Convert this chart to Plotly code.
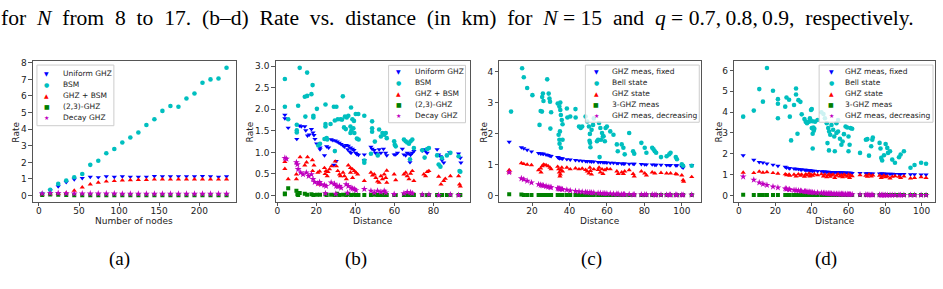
import plotly.graph_objects as go

W, H = 943, 289
def px(x): return x / W
def py(y): return 1 - y / H

# ---------------- data ----------------
# (a) rate vs number of nodes
a_nodes = [4, 14, 24, 34, 44, 54, 64, 74, 84, 94, 104, 114, 124, 134, 144, 154, 164, 174, 184, 194, 204, 214, 224, 234]
a_uniform = [0.1, 0.3, 0.55, 0.8, 0.97, 1.05, 1.12, 1.1, 1.15, 1.12, 1.15, 1.13, 1.12, 1.13, 1.17, 1.15, 1.15, 1.15, 1.15, 1.15, 1.17, 1.15, 1.12, 1.15]
a_bsm = [0.1, 0.35, 0.7, 0.9, 1.1, 1.3, 1.85, 2.1, 2.55, 2.8, 3.2, 3.5, 3.8, 4.25, 4.6, 5.1, 5.4, 5.35, 5.85, 6.15, 6.8, 7.0, 7.05, 7.7]
a_ghz_bsm = [0.05, 0.08, 0.1, 0.15, 0.3, 0.5, 0.68, 0.78, 0.85, 0.88, 0.92, 0.93, 0.95, 0.95, 0.97, 0.98, 0.97, 0.98, 0.98, 0.98, 0.98, 0.98, 0.97, 0.98]
a_23ghz = [0.03, 0.06, 0.05, 0.03, 0.02, 0.02, 0.02, 0.02, 0.02, 0.02, 0.02, 0.02, 0.02, 0.02, 0.02, 0.02, 0.02, 0.02, 0.02, 0.02, 0.02, 0.02, 0.02, 0.02]
a_decay = [0.12, 0.15, 0.15, 0.13, 0.12, 0.12, 0.11, 0.11, 0.11, 0.11, 0.1, 0.1, 0.1, 0.1, 0.1, 0.1, 0.1, 0.1, 0.1, 0.1, 0.1, 0.1, 0.1, 0.1]

# (b) q = 0.7 : (distance, rate) pairs
b_uniform = [(3.9,1.87),(3.9,1.79),(5.6,1.57),(10.0,1.31),(11.4,1.62),(12.3,1.60),(14.1,1.60),(14.6,1.51),(15.5,1.39),(16.4,1.41),
             (17.5,1.54),(18.3,1.46),(18.8,1.40),(19.3,1.31),(20.2,1.20),(21.9,1.11),(21.9,1.07),(24.2,0.93),(25.3,1.14),(26.3,1.11),
             (27.6,1.30),(28.5,1.28),(29.7,1.27),(30.7,1.25),(31.7,1.22),(32.7,1.19),(33.7,1.16),(34.4,1.13),(29.0,0.71),(30.2,0.80),
             (35.4,1.17),(36.4,1.15),(37.5,1.11),(38.5,1.08),(39.3,1.05),(40.2,0.99),(40.8,0.96),(41.6,0.94),(36.1,1.07),(37.1,1.02),
             (37.8,0.99),(44.6,0.95),(44.6,0.82),(48.0,1.13),(48.6,1.08),(49.7,1.05),(50.3,0.99),(51.4,0.97),(52.2,1.07),(53.1,0.99),
             (54.4,1.08),(55.5,0.99),(56.1,0.93),(59.9,0.95),(60.7,0.95),(61.6,0.99),(64.1,1.08),(64.9,0.95),(65.8,0.93),(66.6,0.99),
             (67.5,0.97),(68.3,0.94),(69.2,0.99),(70.0,1.03),(68.0,0.77),(74.3,1.04),(75.1,1.07),(76.0,1.03),(76.8,0.99),(81.9,1.07),
             (82.7,0.95),(83.6,0.91),(84.4,0.82),(85.3,0.76),(88.3,1.00),(92.9,0.97),(93.8,0.87),(94.1,0.76)]
b_bsm = [(3.9,2.70),(3.9,2.06),(5.6,1.77),(11.5,2.96),(15.3,2.85),(18.1,2.56),(14.1,2.29),(15.3,2.31),(17.5,2.35),(10.7,2.08),
         (20.3,2.01),(14.4,1.83),(18.5,1.85),(18.5,1.81),(10.0,1.64),(10.0,1.51),(10.0,1.46),(24.7,2.11),(29.0,2.06),(30.3,2.06),
         (33.6,2.30),(24.7,1.66),(24.7,1.60),(27.3,1.66),(29.5,1.74),(31.0,1.77),(32.4,1.77),(33.2,1.76),(34.7,1.83),(35.6,1.81),
         (36.4,1.85),(37.8,2.04),(40.2,1.89),(41.5,1.89),(38.5,1.77),(39.3,1.73),(37.5,1.60),(39.0,1.56),(38.0,1.51),(37.5,1.45),
         (39.5,1.45),(40.8,1.32),(41.7,1.30),(34.2,1.58),(35.1,1.54),(25.3,1.33),(24.2,1.31),(25.6,1.30),(21.0,1.16),(21.9,1.20),
         (29.5,1.03),(44.6,1.85),(48.6,1.72),(48.6,1.56),(48.6,1.48),(50.0,1.25),(48.0,0.97),(44.6,0.81),(44.6,0.76),(52.2,1.53),
         (53.1,1.37),(53.9,1.45),(54.8,1.41),(55.6,1.45),(56.1,1.33),(51.5,0.93),(59.9,1.26),(60.2,1.18),(60.7,1.14),(64.9,1.30),
         (65.8,1.26),(66.6,1.23),(67.5,1.20),(68.3,1.26),(69.2,1.30),(70.0,1.10),(68.0,0.84),(74.3,1.05),(76.8,1.08),(77.7,1.10),
         (75.5,0.88),(81.9,0.93),(82.7,0.72),(83.6,0.67),(84.4,0.87),(86.9,0.93),(88.7,0.99),(92.9,0.91),(93.4,0.57),(93.8,0.55)]
b_ghz_bsm = [(3.9,0.78),(3.9,0.62),(5.6,0.38),(9.8,0.49),(9.8,0.38),(11.7,0.89),(14.1,0.70),(15.0,0.77),(15.5,0.89),(18.0,0.82),
             (18.8,0.70),(18.1,0.57),(20.8,0.53),(21.7,0.56),(21.4,0.26),(24.2,0.64),(25.0,0.57),(25.6,0.45),(26.8,0.61),(27.8,0.68),
             (29.7,0.79),(30.3,0.68),(31.0,0.57),(31.9,0.49),(32.4,0.45),(33.7,0.53),(34.4,0.45),(35.4,0.38),(36.4,0.70),(37.5,0.64),
             (38.5,0.61),(39.5,0.57),(40.3,0.53),(41.2,0.49),(37.5,0.53),(38.6,0.41),(44.6,0.34),(48.0,0.53),(48.8,0.47),(49.7,0.49),
             (50.5,0.41),(51.4,0.33),(52.2,0.30),(53.1,0.45),(53.9,0.38),(54.8,0.49),(55.6,0.41),(56.1,0.58),(56.1,0.30),(59.9,0.49),
             (60.7,0.36),(64.9,0.49),(65.8,0.53),(66.6,0.45),(67.5,0.38),(68.3,0.51),(69.2,0.57),(70.0,0.34),(75.1,0.49),(76.0,0.45),
             (76.8,0.55),(77.7,0.57),(82.7,0.44),(83.9,0.26),(85.3,0.34),(86.1,0.39),(88.7,0.45),(92.9,0.45),(93.4,0.26),(93.8,0.21),
             (24.5,0.50),(26.0,0.55)]
b_23ghz = [(3.9,0.05),(3.9,0.03),(5.6,0.17),(9.8,0.11),(10.3,0.03),(10.7,0.01),(11.5,0.06),(14.1,0.04),(15.3,0.02),(17.5,0.03),
           (18.5,0.01),(20.3,0.02),(21.9,0.02),(24.7,0.03),(25.3,0.01),(27.6,0.02),(29.5,0.01),(30.7,0.04),(31.7,0.01),(33.7,0.02),
           (35.4,0.01),(36.4,0.03),(37.8,0.01),(39.3,0.02),(40.2,0.01),(41.6,0.01),(44.6,0.01),(48.0,0.01),(49.7,0.02),(51.4,0.01),
           (53.1,0.01),(54.8,0.01),(56.1,0.01),(59.9,0.01),(60.7,0.01),(64.9,0.01),(66.6,0.01),(68.3,0.01),(70.0,0.01),(74.3,0.01),
           (76.8,0.01),(77.7,0.01),(81.9,0.01),(84.4,0.01),(86.9,0.01),(88.7,0.01),(92.9,0.01),(93.8,0.01)]
b_decay = [(3.9,0.87),(4.7,0.85),(9.8,0.77),(10.3,0.72),(10.7,0.61),(12.0,0.53),(13.2,0.49),(14.9,0.53),(16.1,0.45),(17.5,0.49),
           (18.3,0.38),(19.2,0.31),(20.8,0.28),(21.7,0.31),(22.5,0.26),(24.2,0.24),(25.0,0.22),(27.6,0.30),(29.3,0.27),(30.2,0.22),
           (31.0,0.21),(31.9,0.22),(32.7,0.18),(35.3,0.26),(36.4,0.22),(37.8,0.18),(38.6,0.16),(39.5,0.15),(40.3,0.12),(44.6,0.15),
           (48.0,0.11),(49.7,0.07),(51.4,0.11),(53.1,0.08),(54.8,0.11),(55.6,0.07),(59.9,0.03),(64.9,0.05),(66.6,0.08),(68.3,0.07),
           (69.2,0.05),(74.3,0.02),(77.7,0.02),(82.7,0.01),(88.7,0.02),(92.9,0.01),(24.7,0.05),(30.0,0.04),(36.0,0.06)]

# (c) q = 0.8
c_dist = [7.8, 14.3, 15.6, 17.4, 19.7, 23.5, 24.6, 25.4, 26.1, 27.5, 28.6, 29.6, 30.2, 33.7, 34.2, 34.6, 35.1, 35.9, 36.3, 38.6,
          40.4, 43.2, 45.1, 46.8, 48.6, 49.5, 50.9, 51.8, 53.0, 55.3, 56.5, 57.9, 58.9, 60.0, 61.8, 63.5, 65.3, 66.0, 67.9, 68.8,
          69.5, 71.9, 74.0, 74.6, 78.4, 80.2, 81.1, 84.2, 85.6, 86.3, 88.9, 91.9, 93.3, 94.0, 96.8, 97.4, 100.0, 100.7, 105.3]
c_fixed = [1.73, 1.55, 1.52, 1.47, 1.42, 1.37, 1.35, 1.35, 1.34, 1.32, 1.30, 1.28, 1.27, 1.24, 1.22, 1.20, 1.21, 1.20, 1.19, 1.17,
           1.16, 1.14, 1.13, 1.12, 1.11, 1.10, 1.10, 1.09, 1.09, 1.08, 1.08, 1.07, 1.07, 1.06, 1.05, 1.05, 1.04, 1.04, 1.03, 1.03,
           1.03, 1.02, 1.02, 1.02, 1.01, 1.00, 1.00, 1.00, 0.99, 0.99, 0.99, 0.98, 0.98, 0.98, 0.97, 0.97, 0.93, 0.90, 0.98]
c_3ghz = [0.04, 0.03, 0.02, 0.02, 0.02, 0.02, 0.02, 0.02, 0.02, 0.02, 0.02, 0.02, 0.02, 0.02, 0.02, 0.02, 0.02, 0.02, 0.02, 0.02,
          0.02, 0.02, 0.02, 0.02, 0.02, 0.02, 0.02, 0.02, 0.02, 0.02, 0.02, 0.02, 0.02, 0.02, 0.02, 0.02, 0.02, 0.02, 0.02, 0.02,
          0.02, 0.02, 0.02, 0.02, 0.02, 0.02, 0.02, 0.02, 0.02, 0.02, 0.02, 0.02, 0.02, 0.02, 0.02, 0.02, 0.02, 0.02, 0.02]
c_decr = [0.75, 0.55, 0.52, 0.47, 0.42, 0.36, 0.34, 0.33, 0.32, 0.30, 0.28, 0.27, 0.26, 0.23, 0.22, 0.22, 0.21, 0.21, 0.20, 0.18,
          0.16, 0.14, 0.13, 0.12, 0.11, 0.10, 0.10, 0.09, 0.09, 0.08, 0.08, 0.07, 0.07, 0.06, 0.06, 0.05, 0.05, 0.05, 0.04, 0.04,
          0.04, 0.04, 0.03, 0.03, 0.03, 0.03, 0.03, 0.03, 0.02, 0.02, 0.02, 0.02, 0.02, 0.02, 0.02, 0.02, 0.02, 0.02, 0.02]
c_bell = [(8.8,2.71),(14.7,4.11),(15.6,3.82),(17.4,3.47),(20.2,3.24),(24.0,2.28),(24.6,2.73),(25.3,2.71),(25.4,3.18),(25.8,3.29),
          (26.1,3.05),(28.1,3.75),(28.9,3.29),(29.3,3.13),(29.6,3.03),(30.2,2.69),(29.8,2.16),(33.7,2.97),(34.6,2.87),(35.1,2.76),
          (35.4,2.60),(35.9,2.44),(36.3,2.30),(34.9,2.07),(34.2,1.96),(34.6,1.80),(34.7,1.67),(35.4,1.54),(35.1,3.00),(36.3,1.80),
          (38.6,2.81),(38.9,2.52),(40.4,2.55),(43.2,2.79),(43.3,2.52),(45.1,2.23),(46.0,2.18),(46.8,2.23),(48.6,2.55),(49.5,2.39),
          (50.4,2.23),(50.9,1.99),(50.7,1.77),(51.0,1.70),(51.2,1.56),(51.8,2.12),(52.6,2.28),(53.0,2.49),(54.7,1.75),(55.3,1.80),
          (55.8,2.34),(56.5,2.18),(57.4,2.02),(57.9,1.91),(56.8,1.80),(56.1,1.24),(58.2,1.91),(58.9,1.75),(59.3,2.18),(60.0,2.23),
          (61.8,2.07),(63.5,1.96),(65.3,1.65),(65.8,1.43),(67.9,1.65),(68.8,1.54),(69.5,1.33),(71.9,2.02),(74.0,1.43),(74.6,1.35),
          (78.4,1.70),(80.2,1.54),(81.1,1.38),(84.2,1.54),(84.9,1.49),(85.6,1.43),(86.3,1.38),(88.9,1.24),(91.9,1.27),(93.3,1.33),
          (94.0,1.38),(96.8,1.24),(97.4,1.17),(100.0,1.01),(100.7,0.96),(105.3,0.96)]
c_ghz_state = [(7.8,0.82),(7.8,0.75),(14.3,1.05),(15.6,1.02),(17.4,1.00),(19.7,0.98),(23.5,0.82),(24.6,0.88),(25.4,0.95),(26.1,1.00),
               (27.5,0.98),(28.6,0.95),(29.6,0.90),(30.2,0.85),(24.8,0.75),(26.5,0.98),(33.7,0.93),(34.2,0.85),(34.6,0.75),(35.1,0.68),
               (35.4,0.82),(35.9,0.90),(36.3,0.78),(34.9,0.62),(38.6,0.90),(40.4,0.85),(43.2,0.88),(45.1,0.85),(46.8,0.87),(48.6,0.83),
               (49.5,0.78),(50.4,0.72),(50.9,0.90),(51.2,0.80),(51.8,0.68),(53.0,0.85),(55.3,0.83),(55.8,0.90),(56.5,0.75),(57.4,0.85),
               (57.9,0.70),(58.9,0.82),(60.0,0.86),(61.8,0.85),(65.3,0.78),(66.0,0.70),(67.9,0.75),(68.8,0.70),(69.5,0.78),(71.9,0.82),
               (74.0,0.70),(74.6,0.62),(78.4,0.78),(80.2,0.72),(81.1,0.65),(84.2,0.75),(85.6,0.72),(88.9,0.73),(91.9,0.72),(94.0,0.72),
               (96.8,0.70),(97.4,0.68),(100.0,0.65),(100.7,0.50),(101.0,0.45),(105.3,0.60)]

# (d) q = 0.9
d_dist = [2.4, 8.2, 11.2, 13.2, 15.4, 18.7, 21.4, 25.4, 26.1, 27.5, 27.9, 30.2, 31.3, 32.6, 33.7, 34.4, 35.9, 36.6, 37.3, 38.4,
          38.9, 39.5, 40.4, 41.3, 43.1, 45.2, 46.3, 47.1, 48.1, 48.9, 49.4, 50.0, 50.7, 51.6, 52.5, 53.4, 54.3, 55.3, 56.1, 56.8,
          57.5, 58.4, 59.3, 60.0, 60.6, 61.1, 62.0, 66.3, 69.5, 70.3, 71.2, 72.4, 73.3, 77.0, 77.9, 78.4, 79.4, 80.3, 81.2, 82.7,
          83.9, 85.4, 87.6, 88.5, 90.3, 93.9, 96.1, 99.7, 102.4]
d_fixed = [1.92, 1.70, 1.60, 1.57, 1.52, 1.47, 1.42, 1.37, 1.33, 1.31, 1.30, 1.28, 1.27, 1.26, 1.25, 1.24, 1.23, 1.22, 1.21, 1.20,
           1.20, 1.19, 1.18, 1.18, 1.16, 1.15, 1.14, 1.14, 1.13, 1.13, 1.12, 1.12, 1.12, 1.11, 1.11, 1.11, 1.10, 1.10, 1.10, 1.09,
           1.09, 1.09, 1.08, 1.08, 1.08, 1.08, 1.07, 1.07, 1.06, 1.06, 1.05, 1.05, 1.05, 1.04, 1.04, 1.04, 1.04, 1.03, 1.03, 1.03,
           1.03, 1.02, 1.02, 1.02, 1.02, 1.01, 1.01, 1.00, 1.00]
d_ghz_state = [1.10, 1.08, 1.15, 1.10, 1.12, 1.08, 1.05, 1.02, 0.98, 1.00, 0.95, 1.00, 0.92, 1.02, 0.95, 1.00, 0.90, 1.02, 0.97, 1.05,
               0.92, 1.00, 0.95, 1.02, 0.98, 1.02, 0.92, 1.00, 0.88, 0.98, 1.02, 0.90, 0.97, 1.00, 0.85, 0.95, 1.02, 0.92, 0.98, 0.88,
               1.00, 0.95, 0.90, 1.00, 0.85, 0.97, 0.93, 0.98, 0.95, 0.90, 1.00, 0.92, 0.97, 0.95, 0.85, 0.90, 0.95, 0.88, 0.92, 0.82,
               0.90, 0.93, 0.90, 0.85, 0.92, 0.82, 0.85, 0.88, 0.85]
d_3ghz = [0.03, 0.02, 0.02, 0.02, 0.02, 0.02, 0.02, 0.02, 0.02, 0.02, 0.02, 0.02, 0.02, 0.02, 0.02, 0.02, 0.02, 0.02, 0.02, 0.02,
          0.02, 0.02, 0.02, 0.02, 0.02, 0.02, 0.02, 0.02, 0.02, 0.02, 0.02, 0.02, 0.02, 0.02, 0.02, 0.02, 0.02, 0.02, 0.02, 0.02,
          0.02, 0.02, 0.02, 0.02, 0.02, 0.02, 0.02, 0.02, 0.02, 0.02, 0.02, 0.02, 0.02, 0.02, 0.02, 0.02, 0.02, 0.02, 0.02, 0.02,
          0.02, 0.02, 0.02, 0.02, 0.02, 0.02, 0.02, 0.02, 0.02]
d_decr = [0.90, 0.75, 0.62, 0.55, 0.50, 0.42, 0.38, 0.33, 0.31, 0.29, 0.28, 0.26, 0.25, 0.23, 0.22, 0.21, 0.20, 0.19, 0.18, 0.17,
          0.16, 0.16, 0.15, 0.14, 0.13, 0.12, 0.11, 0.11, 0.10, 0.10, 0.09, 0.09, 0.09, 0.08, 0.08, 0.08, 0.07, 0.07, 0.07, 0.06,
          0.06, 0.06, 0.06, 0.05, 0.05, 0.05, 0.05, 0.04, 0.04, 0.03, 0.03, 0.03, 0.03, 0.03, 0.02, 0.02, 0.02, 0.02, 0.02, 0.02,
          0.02, 0.02, 0.02, 0.02, 0.02, 0.02, 0.02, 0.02, 0.02]
d_bell = [(2.4,3.78),(8.2,4.07),(11.2,5.10),(13.2,4.50),(15.4,6.11),(18.7,5.02),(21.4,4.62),(21.4,4.40),(21.4,3.70),(25.4,4.26),
          (26.1,4.70),(27.5,4.59),(27.9,3.78),(28.6,2.64),(30.2,4.34),(31.3,5.13),(31.3,4.84),(32.1,2.96),(32.6,4.57),(33.7,4.49),
          (34.4,3.89),(35.9,3.67),(36.6,3.54),(37.3,3.46),(38.4,3.54),(38.9,3.70),(39.5,4.10),(39.9,4.15),(40.8,3.26),(39.9,3.23),
          (40.4,2.96),(41.0,3.10),(41.3,3.20),(40.2,3.56),(41.7,3.54),(40.4,2.25),(43.1,3.62),(45.2,3.99),(46.3,3.91),(47.1,3.70),
          (48.1,3.46),(48.9,3.23),(49.4,3.07),(50.0,2.91),(48.5,2.51),(49.3,2.16),(50.7,3.38),(51.6,3.15),(52.2,2.83),(52.5,2.12),
          (53.4,3.00),(54.3,3.07),(53.4,3.46),(54.3,3.62),(55.3,2.72),(56.1,2.43),(56.8,2.59),(57.5,2.94),(58.4,3.31),(59.3,3.26),
          (60.0,2.83),(60.6,2.43),(60.0,2.12),(61.1,3.23),(62.0,3.20),(66.3,2.04),(69.5,2.67),(70.3,2.70),(71.2,1.91),(72.4,2.36),
          (73.0,2.67),(73.3,2.78),(77.0,2.52),(77.5,2.25),(77.9,1.80),(78.4,1.68),(79.4,1.93),(80.3,2.47),(81.2,2.28),(81.6,2.04),
          (82.7,2.12),(83.9,1.72),(85.4,1.57),(87.6,1.83),(88.5,1.96),(90.3,2.12),(93.9,1.33),(96.1,1.46),(99.7,1.57),(102.4,1.52)]

legend_ab = ["Uniform GHZ", "BSM", "GHZ + BSM", "(2,3)-GHZ", "Decay GHZ"]
legend_cd = ["GHZ meas, fixed", "Bell state", "GHZ state", "3-GHZ meas", "GHZ meas, decreasing"]
panel_tags = ["(a)", "(b)", "(c)", "(d)"]
caption_words = ["for", "<i>N</i>", "from", "8", "to", "17.", "(b–d)", "Rate", "vs.", "distance", "(in", "km)", "for",
                 "<i>N</i>\u00A0=\u00A015", "and", "<i>q</i>\u00A0=\u00A00.7,\u20090.8,\u20090.9,", "respectively."]

# ---------------- styling ----------------
BLUE, CYAN, RED, GREEN, MAG = "#0000ff", "#00bfbf", "#ff0000", "#008000", "#bf00bf"
STYLE = [("triangle-down", BLUE, 4.6), ("circle", CYAN, 4.6), ("triangle-up", RED, 4.6),
         ("square", GREEN, 4.0), ("star", MAG, 5.2)]
GLYPH = ["\u25BC", "\u25CF", "\u25B2", "\u25A0", "\u2605"]

fig = go.Figure()

def add(xs, ys, k, ax):
    sym, col, sz = STYLE[k]
    fig.add_trace(go.Scatter(x=list(xs), y=list(ys), mode="markers",
                             marker=dict(symbol=sym, color=col, size=sz, line=dict(width=0)),
                             xaxis="x" + ax, yaxis="y" + ax, showlegend=False, hoverinfo="skip"))

def pairs(p):
    return [q[0] for q in p], [q[1] for q in p]

# (a)
for k, ys in enumerate([a_uniform, a_bsm, a_ghz_bsm, a_23ghz, a_decay]):
    add(a_nodes, ys, k, "")
# (b)
for k, ser in enumerate([b_uniform, b_bsm, b_ghz_bsm, b_23ghz, b_decay]):
    add(*pairs(ser), k, "2")
# (c)
add(c_dist, c_fixed, 0, "3")
add(*pairs(c_bell), 1, "3")
add(*pairs(c_ghz_state), 2, "3")
add(c_dist, c_3ghz, 3, "3")
add(c_dist, c_decr, 4, "3")
# (d)
add(d_dist, d_fixed, 0, "4")
add(*pairs(d_bell), 1, "4")
add(d_dist, d_ghz_state, 2, "4")
add(d_dist, d_3ghz, 3, "4")
add(d_dist, d_decr, 4, "4")

AXC = "#555555"
TF = dict(family="DejaVu Sans", size=9, color="#222222")
top, bot = 59, 201
panels = [
    ("", 32, 235, [-7.5, 245.5], [-0.385, 8.085], 50, 1, "", "Number of nodes"),
    ("2", 275, 469, [-0.8, 98.5], [-0.148, 3.11], 20, 0.5, ".1f", "Distance"),
    ("3", 499, 701, [2.6, 110.4], [-0.206, 4.33], 20, 1, "", "Distance"),
    ("4", 734, 935, [-2.5, 107.3], [-0.31, 6.43], 20, 1, "", "Distance"),
]
annotations = []
shapes = []
for suf, l, r, xr, yr, dx, dy, yfmt, xt in panels:
    common = dict(showgrid=False, zeroline=False, showline=True, linecolor=AXC, linewidth=1,
                  mirror=True, ticks="outside", ticklen=3.5, tickwidth=1, tickcolor=AXC,
                  tickfont=TF, fixedrange=True)
    fig.update_layout(**{
        "xaxis" + suf: dict(domain=[px(l), px(r)], range=xr, anchor="y" + suf, tick0=0, dtick=dx,
                            ticklabelstandoff=-3, **common),
        "yaxis" + suf: dict(domain=[py(bot), py(top)], range=yr, anchor="x" + suf, tick0=0, dtick=dy,
                            tickformat=yfmt, **common),
    })
    annotations.append(dict(text=xt, x=px((l + r) / 2), y=py(220), xref="paper", yref="paper",
                            xanchor="center", yanchor="middle", showarrow=False, font=TF))

# y titles
for xc in [15, 249, 483.5, 718.5]:
    annotations.append(dict(text="Rate", x=px(xc), y=py(130), xref="paper", yref="paper", textangle=-90,
                            xanchor="center", yanchor="middle", showarrow=False, font=TF))

# legends (box, glyph column, label column, row centres)
LF = dict(family="DejaVu Sans", size=7.5, color="#222222")
legends = [
    (legend_ab, 36, 113, 62.7, 124, 46, 60, [71.3, 82.3, 93.3, 104.2, 115.3]),
    (legend_ab, 388, 465, 63, 121, 398.3, 412, [69.3, 80.3, 91.5, 102.5, 113.3]),
    (legend_cd, 585, 699, 62.7, 120.5, 596, 609.3, [69.3, 80.6, 91.8, 102.8, 113.8]),
    (legend_cd, 819, 933, 62.7, 120.5, 831, 843.3, [69.3, 80.6, 91.8, 102.8, 113.8]),
]
for labels, bx0, bx1, by0, by1, gx, tx, rows in legends:
    shapes.append(dict(type="rect", xref="paper", yref="paper", x0=px(bx0), x1=px(bx1), y0=py(by1), y1=py(by0),
                       line=dict(color="#cccccc", width=1), fillcolor="rgba(255,255,255,0.8)", layer="above"))
    for k, (lab, ry) in enumerate(zip(labels, rows)):
        annotations.append(dict(text=GLYPH[k], x=px(gx), y=py(ry), xref="paper", yref="paper",
                                xanchor="center", yanchor="middle", showarrow=False,
                                font=dict(family="DejaVu Sans", size=6, color=STYLE[k][1])))
        annotations.append(dict(text=lab, x=px(tx), y=py(ry), xref="paper", yref="paper",
                                xanchor="left", yanchor="middle", showarrow=False, font=LF))

# caption text (justified line: words joined with widened spaces)
SERIF = dict(family="Liberation Serif", size=21.6, color="#000000")
annotations.append(dict(
    text=" \u00A0".join(caption_words),
    x=px(-2), y=py(15), xref="paper", yref="paper", xanchor="left", yanchor="middle",
    showarrow=False, font=SERIF))
for tag, xc in zip(panel_tags, [119, 355, 591, 826]):
    annotations.append(dict(text=tag, x=px(xc), y=py(259), xref="paper", yref="paper",
                            xanchor="center", yanchor="middle", showarrow=False,
                            font=dict(family="Liberation Serif", size=19, color="#000000")))

fig.update_layout(width=W, height=H, margin=dict(l=0, r=0, t=0, b=0),
                  paper_bgcolor="white", plot_bgcolor="white",
                  annotations=annotations, shapes=shapes, showlegend=False)
fig.write_html("out.html")
